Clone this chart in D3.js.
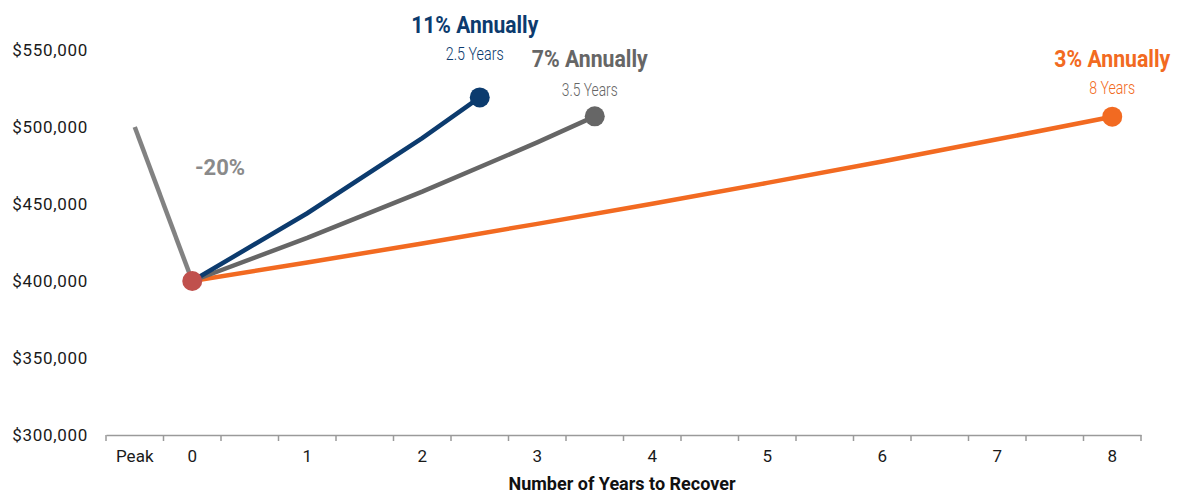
<!DOCTYPE html>
<html>
<head>
<meta charset="utf-8">
<script src="https://cdn.jsdelivr.net/npm/d3@7"></script>
<style>
  html, body { margin: 0; padding: 0; background: #fff; }
  svg { display: block; }
</style>
</head>
<body>
<svg id="chart" width="1183" height="493"></svg>
<script>
// ---- data ----
const categories = ["Peak","0","0.5","1","1.5","2","2.5","3","3.5","4","4.5","5","5.5","6","6.5","7","7.5","8"];
const xTickLabels = ["Peak","0","1","2","3","4","5","6","7","8"];
const yTicks = [300000, 350000, 400000, 450000, 500000, 550000];

const peakCats = ["Peak", "0"];
const peakValues = [500000, 400000];

const s11Cats = ["0", "1", "2", "2.5"];
const s11Values = [400000, 444000, 492800, 519200];

const s7Cats = ["0", "1", "2", "3", "3.5"];
const s7Values = [400000, 428000, 458000, 490000, 506900];

const s3Cats = ["0", "1", "2", "3", "4", "5", "6", "7", "8"];
const s3Values = [400000, 412000, 424400, 437100, 450200, 463700, 477600, 492000, 506700];

const seriesNames = ["3% Annually", "7% Annually", "11% Annually"];
const seriesSub = ["8 Years", "3.5 Years", "2.5 Years"];
const dropLabel = "-20%";
const xTitle = "Number of Years to Recover";

// ---- styles ----
const colors = { s3: "#f26a21", s7: "#666666", s11: "#0c3b6e", peak: "#828282", dot0: "#c0504d", axis: "#9a9a9a" };
const FONT = "Roboto, 'Liberation Sans', sans-serif";

const svg = d3.select("#chart");

const x = d3.scaleBand().domain(categories).range([106, 1141]).padding(0);
const cx = c => x(c) + x.bandwidth() / 2;
const y = d3.scaleLinear().domain([300000, 550000]).range([435, 50]);

// y labels
svg.append("g").selectAll("text").data(yTicks).join("text")
  .attr("x", 88).attr("y", d => y(d)).attr("dy", "0.36em")
  .attr("text-anchor", "end")
  .style("font-family", FONT).style("font-size", "17px").style("letter-spacing", "0.7px")
  .style("fill", "#1a1a1a")
  .text(d => "$" + d3.format(",")(d));

// x axis
const xAxis = d3.axisBottom(x).tickSize(0).tickFormat(d => xTickLabels.includes(d) ? d : "");
const gx = svg.append("g").attr("transform", "translate(0,435)").call(xAxis);
gx.select(".domain").attr("stroke", colors.axis).attr("stroke-width", 1.5);
gx.selectAll(".tick text").attr("dy", 0).attr("y", 27)
  .style("font-family", FONT).style("font-size", "17px").style("fill", "#1a1a1a");
// boundary tick marks
const edges = categories.map(c => x(c)).concat([x.range()[1]]);
gx.append("g").selectAll("line").data(edges).join("line")
  .attr("x1", d => d).attr("x2", d => d).attr("y1", 0).attr("y2", 6)
  .attr("stroke", colors.axis).attr("stroke-width", 1.5);

svg.append("text").attr("x", 622).attr("y", 490).attr("text-anchor", "middle")
  .style("font-family", FONT).style("font-weight", "bold").style("font-size", "18px").style("fill", "#111")
  .text(xTitle);

// lines
const line = d3.line().x(d => cx(d[0])).y(d => y(d[1]));
const zip = (a, b) => a.map((v, i) => [v, b[i]]);

const s3 = zip(s3Cats, s3Values), s7 = zip(s7Cats, s7Values), s11 = zip(s11Cats, s11Values);
const peak = zip(peakCats, peakValues);

svg.append("path").datum(s3).attr("d", line).attr("fill", "none").attr("stroke", colors.s3).attr("stroke-width", 4.5);
svg.append("path").datum(s7).attr("d", line).attr("fill", "none").attr("stroke", colors.s7).attr("stroke-width", 4.5);
svg.append("path").datum(s11).attr("d", line).attr("fill", "none").attr("stroke", colors.s11).attr("stroke-width", 4.5);
svg.append("path").datum(peak).attr("d", line).attr("fill", "none").attr("stroke", colors.peak).attr("stroke-width", 4.5);

// end dots
const ends = [
  { p: s3[s3.length - 1], c: colors.s3 },
  { p: s7[s7.length - 1], c: colors.s7 },
  { p: s11[s11.length - 1], c: colors.s11 }
];
svg.append("g").selectAll("circle").data(ends).join("circle")
  .attr("cx", d => cx(d.p[0])).attr("cy", d => y(d.p[1])).attr("r", 10).attr("fill", d => d.c);
svg.append("circle").attr("cx", cx("0")).attr("cy", y(400000)).attr("r", 10).attr("fill", colors.dot0);

// labels
const labelCfg = [
  { p: s3[s3.length - 1], c: colors.s3, dx: 0, t: -50, s: -23, tl: 116, sl: 46 },
  { p: s7[s7.length - 1], c: colors.s7, dx: -5, t: -49, s: -20, tl: 116, sl: 56 },
  { p: s11[s11.length - 1], c: colors.s11, dx: -5, t: -64, s: -37, tl: 127, sl: 58 }
];
labelCfg.forEach((d, i) => {
  const px = cx(d.p[0]) + d.dx, py = y(d.p[1]);
  svg.append("text").attr("x", px).attr("y", py + d.t).attr("text-anchor", "middle")
    .attr("textLength", d.tl).attr("lengthAdjust", "spacingAndGlyphs")
    .style("font-family", FONT).style("font-weight", "bold").style("font-size", "23px").style("fill", d.c)
    .text(seriesNames[i]);
  svg.append("text").attr("x", px).attr("y", py + d.s).attr("text-anchor", "middle")
    .attr("textLength", d.sl).attr("lengthAdjust", "spacingAndGlyphs")
    .style("font-family", FONT).style("font-weight", "300").style("font-size", "18px").style("fill", d.c)
    .text(seriesSub[i]);
});

svg.append("text").attr("x", 220).attr("y", 175).attr("text-anchor", "middle")
  .style("font-family", FONT).style("font-weight", "bold").style("font-size", "22px").style("fill", "#8a8a8a")
  .text(dropLabel);
</script>
</body>
</html>
